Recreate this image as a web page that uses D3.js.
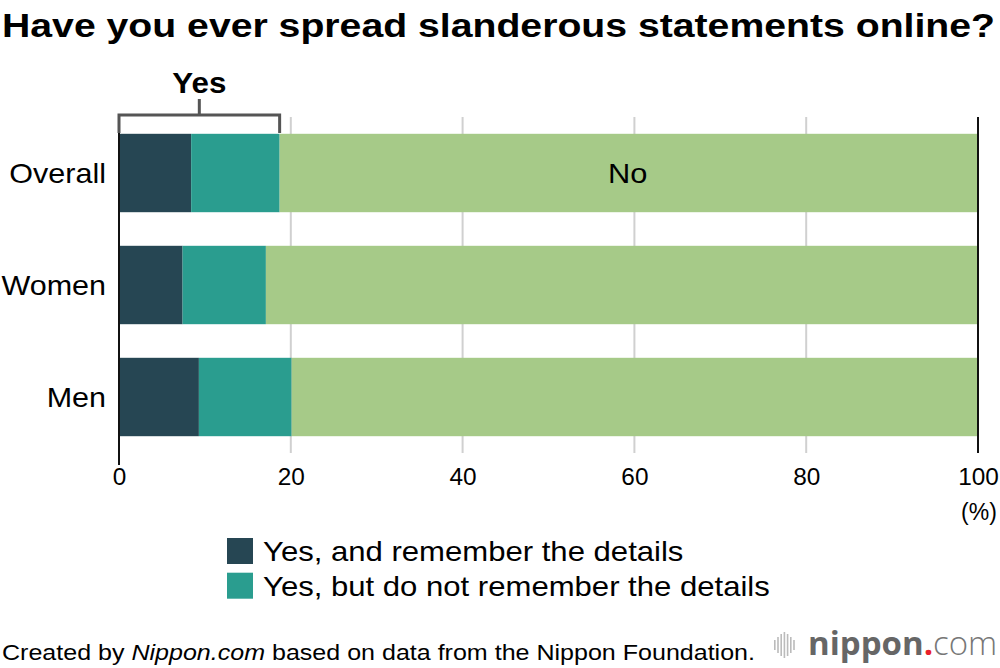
<!DOCTYPE html>
<html>
<head>
<meta charset="utf-8">
<script src="https://cdn.jsdelivr.net/npm/d3@7"></script>
<style>
  html, body { margin: 0; padding: 0; background: #fff; }
  svg { display: block; font-family: "Liberation Sans", Arial, Helvetica, sans-serif; }
</style>
</head>
<body>
<svg id="chart" width="1000" height="668"></svg>
<script>
// ---- data ----
const categories = ["Overall", "Women", "Men"];
const yesRemember = [8.4, 7.4, 9.3];
const yesNotRemember = [10.3, 9.7, 10.8];
const noValues = [81.3, 82.9, 79.9];
const tickValues = [0, 20, 40, 60, 80, 100];
const seriesNames = ["Yes, and remember the details", "Yes, but do not remember the details", "No"];
const colors = ["#264653", "#2a9d8f", "#a6ca88"];

const svg = d3.select("#chart");
const FONT = "'Liberation Sans', Arial, Helvetica, sans-serif";

// stretch text horizontally by a factor to mimic the wider original face
function widen(sel, factor) {
  sel.each(function () {
    const w = this.getComputedTextLength();
    d3.select(this).attr("textLength", w * factor).attr("lengthAdjust", "spacingAndGlyphs");
  });
}

// title
svg.append("text")
  .attr("x", 2).attr("y", 37)
  .attr("font-size", 34).attr("font-weight", "bold").attr("fill", "#000")
  .attr("textLength", 993).attr("lengthAdjust", "spacingAndGlyphs")
  .text("Have you ever spread slanderous statements online?");

const x = d3.scaleLinear().domain([0, 100]).range([119, 978]);
const y = d3.scaleBand().domain(categories).range([117, 453]).paddingInner(0.3).paddingOuter(0.15);

const rows = categories.map((c, i) => ({
  cat: c, r: yesRemember[i], n: yesNotRemember[i], no: noValues[i]
}));
const stacked = d3.stack().keys(["r", "n", "no"])(rows);

// gridlines
svg.append("g").selectAll("line")
  .data(tickValues.filter(v => v > 0 && v < 100))
  .join("line")
  .attr("x1", d => x(d)).attr("x2", d => x(d))
  .attr("y1", 117).attr("y2", 453)
  .attr("stroke", "#d0d0d0").attr("stroke-width", 2);

// bars
svg.append("g").selectAll("g")
  .data(stacked)
  .join("g")
  .attr("fill", (d, i) => colors[i])
  .selectAll("rect")
  .data(d => d)
  .join("rect")
  .attr("x", d => x(d[0]))
  .attr("width", d => x(d[1]) - x(d[0]))
  .attr("y", d => y(d.data.cat))
  .attr("height", y.bandwidth());

// 0 and 100 lines
svg.append("line").attr("x1", x(0)).attr("x2", x(0)).attr("y1", 115).attr("y2", 465)
  .attr("stroke", "#111").attr("stroke-width", 2);
svg.append("line").attr("x1", x(100)).attr("x2", x(100)).attr("y1", 117).attr("y2", 453)
  .attr("stroke", "#111").attr("stroke-width", 2);

// x axis labels
const xAxis = d3.axisBottom(x).tickValues(tickValues).tickSize(0).tickPadding(0);
const ax = svg.append("g").attr("transform", "translate(0,469)").call(xAxis)
  .attr("font-size", 23).attr("font-family", FONT);
ax.select(".domain").remove();
ax.selectAll("text").attr("fill", "#000").attr("dy", "0.71em");
widen(ax.selectAll("text"), 1.06);
svg.append("text").attr("x", x(100) + 1).attr("y", 520).attr("text-anchor", "middle")
  .attr("font-size", 23).attr("font-family", FONT).text("(%)");

// y axis labels
const yAxis = d3.axisLeft(y).tickSize(0).tickPadding(0);
const ay = svg.append("g").attr("transform", "translate(106,0)").call(yAxis)
  .attr("font-size", 28).attr("font-family", FONT);
ay.select(".domain").remove();
ay.selectAll("text").attr("fill", "#000").attr("dy", "0.36em");
widen(ay.selectAll("text"), 1.09);

// "No" label
svg.append("text")
  .attr("x", x(stacked[2][0][0] + (stacked[2][0][1] - stacked[2][0][0]) / 2) - 1)
  .attr("y", y("Overall") + y.bandwidth() / 2)
  .attr("dy", "0.36em").attr("text-anchor", "middle")
  .attr("font-size", 28).attr("fill", "#000").text("No")
  .call(widen, 1.1);

// bracket "Yes"
const yesEnd = stacked[1][0][1];
const bx0 = x(0), bx1 = x(yesEnd), bTop = 115, bBot = 133, bMid = (bx0 + bx1) / 2;
svg.append("path")
  .attr("d", `M${bx0},${bBot} V${bTop} H${bx1} V${bBot} M${bMid},${bTop} V${99}`)
  .attr("fill", "none").attr("stroke", "#555").attr("stroke-width", 3);
svg.append("text").attr("x", bMid).attr("y", 93).attr("text-anchor", "middle")
  .attr("font-size", 29).attr("font-weight", "bold").text("Yes")
  .call(widen, 1.08);

// legend
const leg = svg.append("g");
seriesNames.slice(0, 2).forEach((name, i) => {
  const gy = 538 + i * 34.7;
  leg.append("rect").attr("x", 227).attr("y", gy).attr("width", 26).attr("height", 26).attr("fill", colors[i]);
  leg.append("text").attr("x", 263).attr("y", gy + 13).attr("dy", "0.36em")
    .attr("font-size", 28).attr("fill", "#000").text(name)
    .call(widen, 1.11);
});

// footer
const foot = svg.append("text").attr("x", 2).attr("y", 660).attr("font-size", 22).attr("fill", "#000");
foot.append("tspan").text("Created by ");
foot.append("tspan").attr("font-style", "italic").text("Nippon.com");
foot.append("tspan").text(" based on data from the Nippon Foundation.");
foot.attr("textLength", 753).attr("lengthAdjust", "spacingAndGlyphs");

// logo
const logo = svg.append("g");
const barH = [10, 16, 22, 26, 22, 16, 10];
barH.forEach((h, i) => {
  logo.append("rect").attr("x", 774 + i * 3.2).attr("y", 645 - h / 2).attr("width", 1.6).attr("height", h).attr("fill", "#bbb");
});
const lt = logo.append("text").attr("x", 808).attr("y", 655)
  .attr("font-family", "'Open Sans', 'DejaVu Sans', sans-serif").attr("font-size", 33);
lt.append("tspan").attr("font-weight", 700).attr("fill", "#666").text("nippon");
lt.append("tspan").attr("font-weight", 700).attr("fill", "#e8202a").text(".");
lt.append("tspan").attr("font-weight", 300).attr("fill", "#777").text("com");
</script>
</body>
</html>
